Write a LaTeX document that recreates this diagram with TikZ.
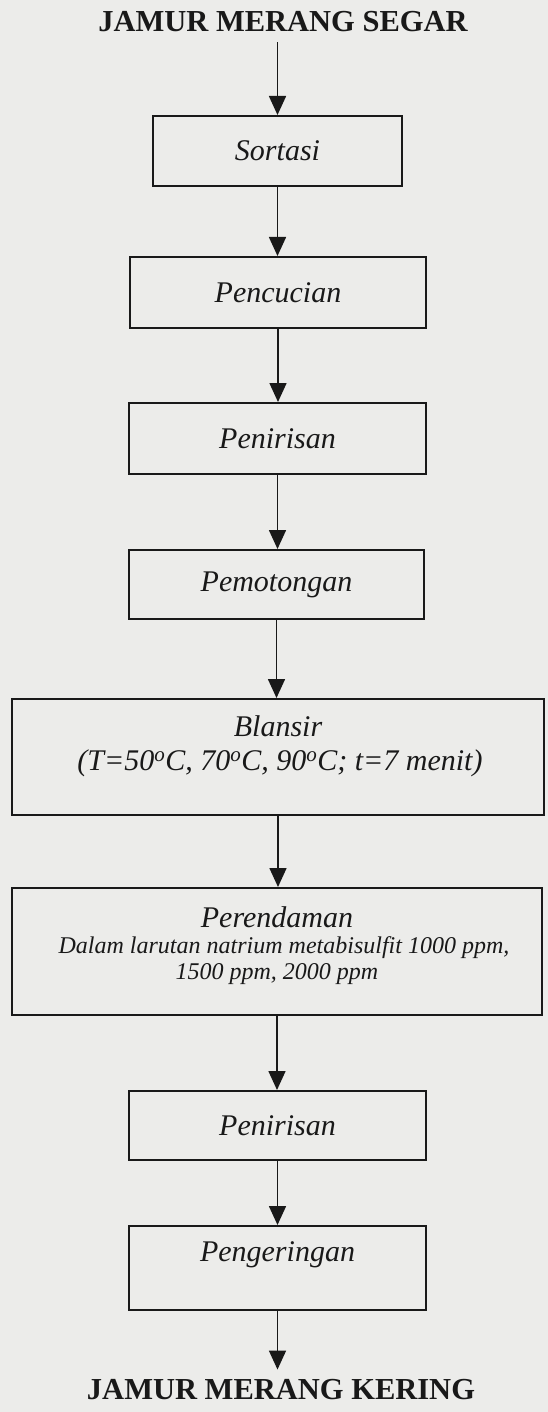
\documentclass[tikz,border=0pt]{standalone}
\usepackage{fontspec}
\setmainfont{Liberation Serif}
\usetikzlibrary{arrows.meta}
\definecolor{paper}{RGB}{236,236,234}
\definecolor{ink}{RGB}{25,25,25}
\begin{document}
\begin{tikzpicture}[x=1pt,y=-1pt,
  procbox/.style={draw=ink, line width=2pt, fill=paper, inner sep=0pt,
    font=\fontsize{30}{30}\selectfont\itshape, text=ink},
  lbl/.style={inner sep=0pt, font=\fontsize{30}{30}\selectfont\itshape, text=ink},
  small/.style={inner sep=0pt, font=\fontsize{24}{25}\selectfont\itshape, text=ink},
  title/.style={inner xsep=0pt, inner ysep=10pt, font=\fontsize{30.5}{31}\selectfont\bfseries, text=ink},
  flow/.style={draw=ink, line width=1.6pt, -{Triangle[width=17pt,length=19pt]}}
]
\useasboundingbox (0,0) rectangle (548,1412);
\fill[paper] (0,0) rectangle (548,1412);

\node[title] (start) at (283,22) {JAMUR MERANG SEGAR};

\node[procbox, minimum width=249pt, minimum height=70pt] (sortasi) at (277.5,151) {Sortasi};
\node[procbox, minimum width=296pt, minimum height=71pt] (pencucian) at (278,292.5) {Pencucian};
\node[procbox, minimum width=297pt, minimum height=71pt] (penirisanA) at (277.5,438.5) {Penirisan};
\node[procbox, minimum width=295pt, minimum height=69pt] (pemotongan) at (276.5,584.5) {Pemotongan};

\node[procbox, minimum width=532pt, minimum height=116pt] (blansir) at (278,757) {};
\node[lbl] (blansirA) at (278,726) {Blansir};
\node[lbl] (blansirB) at (280,763) {(T=50\textsuperscript{o}C, 70\textsuperscript{o}C, 90\textsuperscript{o}C; t=7 menit)};

\node[procbox, minimum width=530pt, minimum height=127pt] (rendam) at (277,951.5) {};
\node[lbl] (rendamA) at (277,917) {Perendaman};
\node[small] (rendamB) at (284,948) {Dalam larutan natrium metabisulfit 1000 ppm,};
\node[small] (rendamC) at (277,974) {1500 ppm, 2000 ppm};

\node[procbox, minimum width=297pt, minimum height=69pt] (penirisanB) at (277.5,1125.5) {Penirisan};
\node[procbox, minimum width=297pt, minimum height=84pt] (kering) at (277.5,1268) {};
\node[lbl] (keringA) at (277.5,1255) {Pengeringan};

\node[title] (finish) at (281,1390) {JAMUR MERANG KERING};

\draw[flow] (start.south -| sortasi.north) -- (sortasi.north);
\draw[flow] (sortasi.south) -- (sortasi.south |- pencucian.north);
\draw[flow] (pencucian.south) -- (pencucian.south |- penirisanA.north);
\draw[flow] (penirisanA.south) -- (penirisanA.south |- pemotongan.north);
\draw[flow] (pemotongan.south) -- (pemotongan.south |- blansir.north);
\draw[flow] (blansir.south) -- (blansir.south |- rendam.north);
\draw[flow] (rendam.south) -- (rendam.south |- penirisanB.north);
\draw[flow] (penirisanB.south) -- (penirisanB.south |- kering.north);
\draw[flow] (kering.south) -- (kering.south |- finish.north);
\end{tikzpicture}
\end{document}
